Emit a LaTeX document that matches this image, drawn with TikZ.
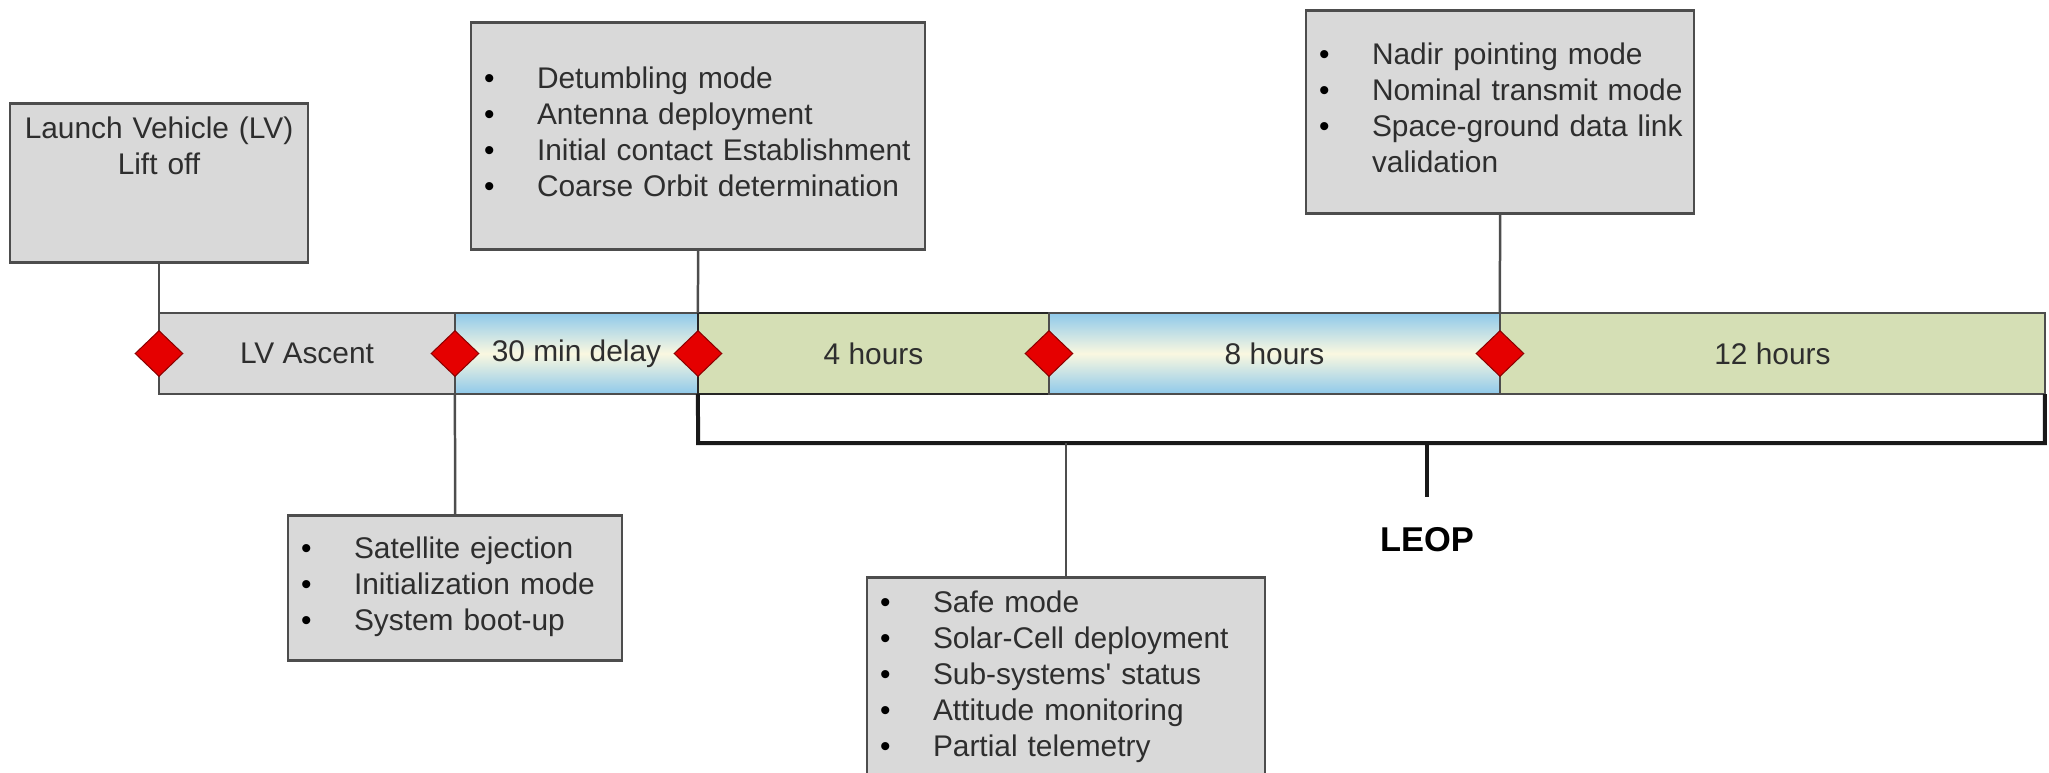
\documentclass[tikz,border=0pt]{standalone}
\usepackage{fontspec}
\setmainfont{Liberation Sans}
\usetikzlibrary{positioning,shapes.geometric}

\definecolor{boxgray}{HTML}{D9D9D9}
\definecolor{edgegray}{HTML}{4D4D4D}
\definecolor{inkgray}{HTML}{2E2E2E}
\definecolor{skyband}{HTML}{8FC9EA}
\definecolor{creamband}{HTML}{FAF8E0}
\definecolor{oliveband}{HTML}{D5DFB5}
\definecolor{milered}{HTML}{E50000}

\newcommand{\boxfont}{\fontsize{8.5}{10.25}\selectfont}
\newcommand{\dotlist}[1]{\begin{tabular}{@{}p{5.3mm}@{}l@{}}#1\end{tabular}}
\newcommand{\dt}{\textcolor{black}{\textbullet}}

\tikzset{
  infobox/.style={draw=edgegray, fill=boxgray, line width=0.25mm, inner xsep=1.3mm,
    inner ysep=0pt, align=left, font=\boxfont, text=inkgray, anchor=north},
  phase/.style={draw=edgegray, line width=0.25mm, minimum height=8.1mm, inner sep=0pt,
    outer sep=0pt, font=\boxfont, text=inkgray},
  graybar/.style={phase, fill=boxgray},
  bluebar/.style={phase, top color=skyband, bottom color=skyband, middle color=creamband},
  greenbar/.style={phase, fill=oliveband},
  milestone/.style={diamond, draw=milered!60!black, fill=milered, minimum width=4.8mm,
    minimum height=4.6mm, inner sep=0pt, line width=0.1mm},
  link/.style={draw=edgegray, line width=0.25mm},
  bracket/.style={draw=black!90, line width=0.4mm}
}

\begin{document}
\begin{tikzpicture}[x=0.1mm, y=-0.1mm]
  \useasboundingbox (0,0) rectangle (2049,772);
  % Timeline bar: one node per phase, side by side.
  \node[graybar, minimum width=29.6mm, anchor=west] (ascent) at (159,353.5) {LV Ascent};
  \node[bluebar, minimum width=24.3mm, right=0mm of ascent] (delay) {30 min delay};
  \node[greenbar, minimum width=35.1mm, right=0mm of delay, draw=black!85] (fourh) {4 hours};
  \node[bluebar, minimum width=45.1mm, right=0mm of fourh] (eighth) {8 hours};
  \node[greenbar, minimum width=54.5mm, right=0mm of eighth] (twelveh) {12 hours};

  % Event boxes above and below the bar.
  \node[infobox, align=center, text width=27.2mm, text height=3.55mm, text depth=12.35mm]
    (liftoff) at (159,102) {Launch Vehicle (LV)\\Lift off};
  \node[infobox, text width=42.8mm, minimum height=22.7mm] (detumb) at (698,21)
    {\dotlist{\dt & Detumbling mode\\ \dt & Antenna deployment\\
      \dt & Initial contact Establishment\\ \dt & Coarse Orbit determination}};
  \node[infobox, text width=36.2mm, minimum height=20.3mm] (nadir) at (1500,9)
    {\dotlist{\dt & Nadir pointing mode\\ \dt & Nominal transmit mode\\
      \dt & Space-ground data link\\ & validation}};
  \node[infobox, text width=30.8mm, minimum height=14.5mm] (eject) at (455,514)
    {\dotlist{\dt & Satellite ejection\\ \dt & Initialization mode\\ \dt & System boot-up}};
  \node[infobox, text width=37.2mm, minimum height=20mm] (safe) at (1066,576)
    {\dotlist{\dt & Safe mode\\ \dt & Solar-Cell deployment\\
      \dt & Sub-systems\textquotesingle{} status\\
      \dt & Attitude monitoring\\ \dt & Partial telemetry}};

  % LEOP bracket under the last three phases.
  \coordinate (brk) at (698,443);
  \coordinate (leoptick) at (1427,443);
  \coordinate (tickend) at (1427,497);
  \draw[bracket] (fourh.south west) -- (brk) -| (twelveh.south east);
  \draw[bracket] (leoptick) -- (tickend);
  \node[font=\fontsize{9.8}{12}\selectfont\bfseries] (leop) at (1427,540) {LEOP};

  % Leader lines.
  \draw[link] (liftoff.south) -- (ascent.north west);
  \draw[link] (detumb.south) -- (fourh.north west);
  \draw[link] (nadir.south) -- (twelveh.north west);
  \draw[link] (delay.south west) -- (eject.north);
  \draw[link] (safe.north) -- (safe.north |- brk);

  % Milestones on the phase boundaries.
  \foreach \seg [count=\i] in {ascent,delay,fourh,eighth,twelveh}
    \node[milestone] (ms\i) at (\seg.west) {};
\end{tikzpicture}
\end{document}
